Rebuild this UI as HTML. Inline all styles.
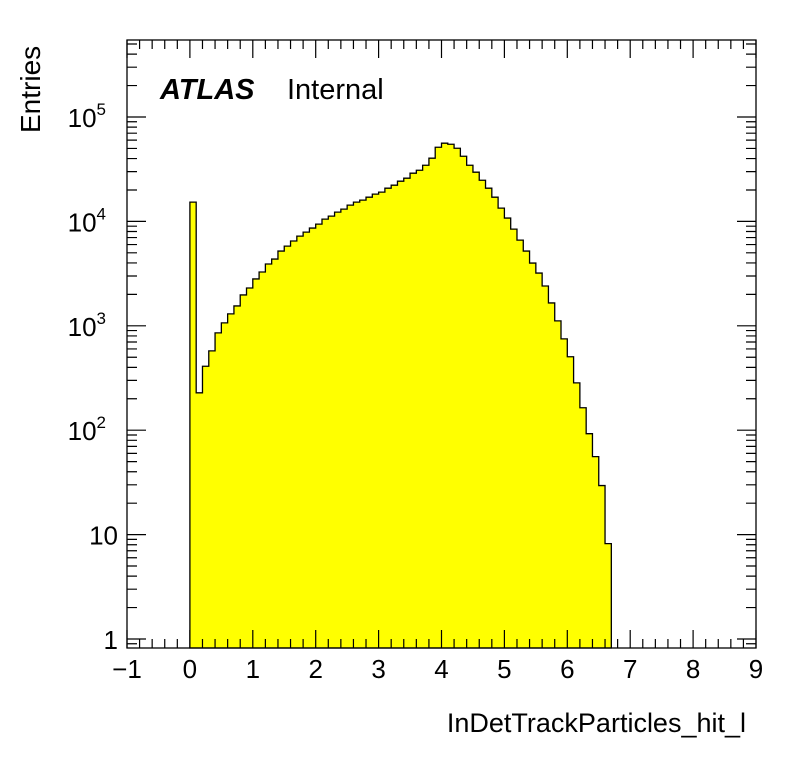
<!DOCTYPE html>
<html><head><meta charset="utf-8"><style>
body{margin:0;background:#fff}
svg text{font-family:"Liberation Sans",sans-serif}
</style></head><body>
<svg id="c" width="796" height="772" xmlns="http://www.w3.org/2000/svg">
<rect width="796" height="772" fill="#fff"/>
<g id="bars"></g>
<g id="ticks"></g>
<rect x="127" y="40" width="629" height="608" fill="none" stroke="#000" stroke-width="1.3"/>
<text x="160" y="99" font-size="29" font-weight="bold" font-style="italic">ATLAS</text>
<text x="287" y="99" font-size="29">Internal</text>
<text transform="translate(40,133) rotate(-90)" font-size="28">Entries</text>
<text x="746" y="732" font-size="27" text-anchor="end">InDetTrackParticles_hit_l</text>
</svg>
<script>
const binStart = 0, binWidth = 0.1;
const counts = [15300,228,410,575,855,1067,1300,1550,1975,2300,2810,3275,3910,4360,5200,5800,6490,7230,7900,8630,9420,10520,11240,12280,13120,14320,15300,16000,17060,18240,19060,20800,22230,24270,25940,28960,30900,34500,40300,51300,56100,54800,50200,42100,34500,29600,24800,20800,17060,13400,10760,8440,6620,5200,3990,3200,2405,1655,1115,750,505,284,164,92.6,55.8,29.5,8.2];
const xTicks = [-1,0,1,2,3,4,5,6,7,8,9];
const yTickExps = [0,1,2,3,4,5];
const yTickLabels = ["1","10","10^2","10^3","10^4","10^5"];
const NS="http://www.w3.org/2000/svg";
const X0=127,X1=756,Y0=648,Y1=40;
function xs(v){return X0+(v+1)/10*(X1-X0);}
function ys(v){return 639-104.4*Math.log10(v);}
function mk(tag,at,parent){const e=document.createElementNS(NS,tag);for(const k in at)e.setAttribute(k,at[k]);parent.appendChild(e);return e;}
const bars=document.getElementById('bars');
let d="M"+xs(binStart)+","+Y0;
counts.forEach((c,i)=>{const xa=xs(binStart+i*binWidth),xb=xs(binStart+(i+1)*binWidth),y=Math.min(Y0,ys(c));d+=" L"+xa+","+y+" L"+xb+","+y;});
d+=" L"+xs(binStart+counts.length*binWidth)+","+Y0+" Z";
const p=mk('path',{d:d,fill:'#ffff00',stroke:'#000','stroke-width':1.3},bars);


const tk=document.getElementById('ticks');
let td="";
for(let v=-1;v<=9.001;v+=0.2){const x=xs(v);const major=Math.abs(v-Math.round(v))<1e-6;const L=major?18:9;td+=`M${x},${Y0}v${-L}M${x},${Y1}v${L}`;}
for(let e=-1;e<=5;e++){for(let m=1;m<10;m++){const v=m*Math.pow(10,e);const y=ys(v);if(y>Y0||y<Y1)continue;const L=m==1?19:10;td+=`M${X0},${y}h${L}M${X1},${y}h${-L}`;}}
const tp=mk('path',{d:td,stroke:'#000','stroke-width':1.2,fill:'none'},tk);


xTicks.forEach(v=>{const t=mk('text',{x:xs(v),y:678,'font-size':26,'text-anchor':'middle'},tk);t.textContent=v<0?"\u2212"+(-v):String(v);

});
yTickExps.forEach((e,i)=>{const y=ys(Math.pow(10,e));const lab=yTickLabels[i];const t=mk('text',{x:118,y:y+10,'font-size':26,'text-anchor':'end'},tk);


if(lab.indexOf('^')>=0){const parts=lab.split('^');t.setAttribute('x',106);t.textContent=parts[0];const s=mk('tspan',{dy:-12,'font-size':17},t);s.textContent=parts[1];}else t.textContent=lab;});
</script>
</body></html>
